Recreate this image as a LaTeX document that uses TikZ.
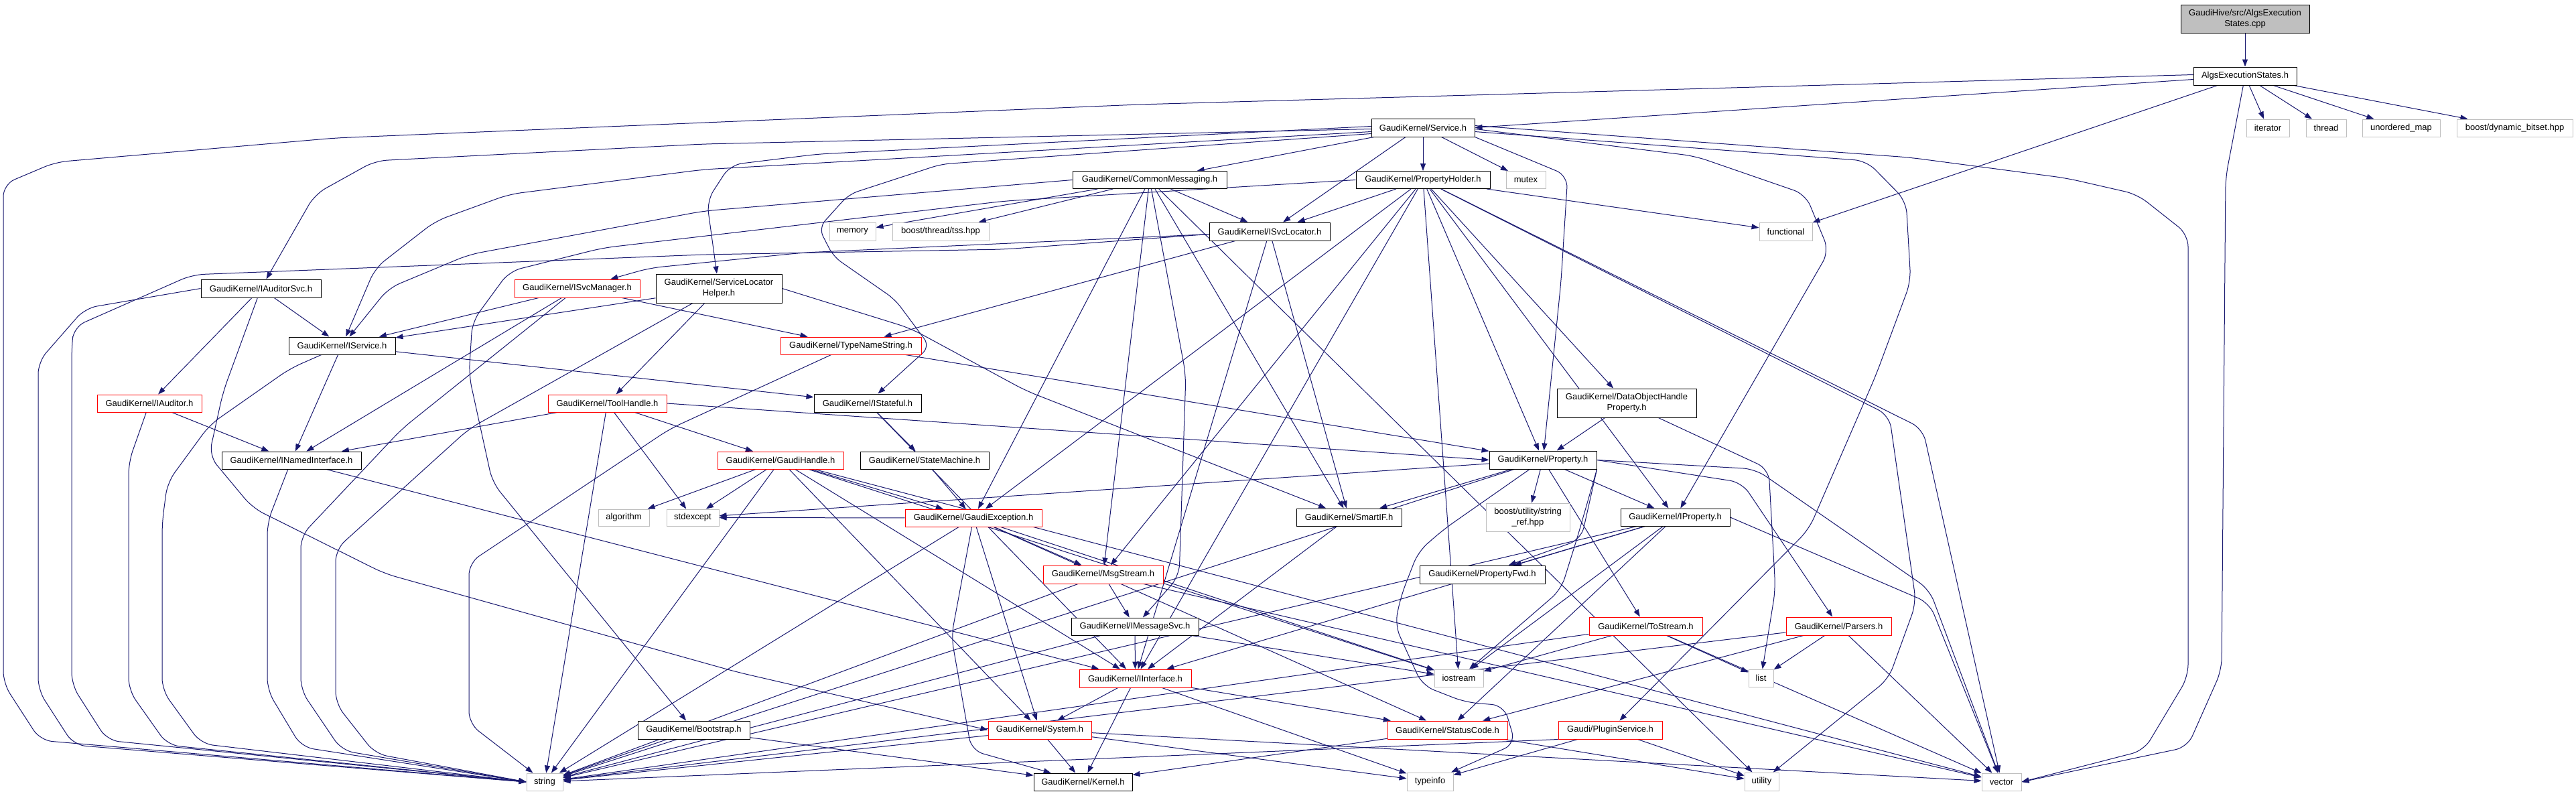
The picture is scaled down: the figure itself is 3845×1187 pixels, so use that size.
\documentclass[tikz,border=0pt]{standalone}
\usepackage{fontspec}
\setmainfont{Liberation Sans}
\usetikzlibrary{arrows.meta}
\definecolor{ecol}{HTML}{191970}
\definecolor{sysg}{HTML}{BFBFBF}
\pgfdeclarelayer{bglayer}
\pgfdeclarelayer{edgelayer}
\pgfsetlayers{bglayer,edgelayer,main}
\newcommand\mkbox[7]{\node[#1,minimum width=#5pt,minimum height=#6pt] (#2) at (#3,#4) {#7};}
\begin{document}
\begin{tikzpicture}[x=1pt,y=-1pt,
  nb/.style={draw=black,fill=white,line width=1pt,inner sep=0pt,align=center,font=\fontsize{13}{16}\selectfont},
  rb/.style={nb,draw=red},
  gb/.style={nb,draw=sysg},
  rootb/.style={nb,fill=sysg},
  e/.style={draw=ecol,line width=1pt,rounded corners=18pt,-{Triangle[length=11pt,width=8pt]}}]
\begin{pgfonlayer}{bglayer}
\fill[white] (0,0) rectangle (3845,1187);
\end{pgfonlayer}
\useasboundingbox (0,0) rectangle (3845,1187);
% nodes
\mkbox{rootb}{cpp}{3351}{28}{192}{42}{GaudiHive/src/AlgsExecution\\States.cpp}
\mkbox{nb}{aesh}{3351}{113.5}{154}{27}{AlgsExecutionStates.h}
\mkbox{gb}{iterator}{3385}{191}{64}{26}{iterator}
\mkbox{gb}{thread}{3472}{191}{60}{26}{thread}
\mkbox{gb}{umap}{3584}{191}{116}{26}{unordered\_map}
\mkbox{gb}{dynbit}{3753.5}{191}{173}{26}{boost/dynamic\_bitset.hpp}
\mkbox{nb}{service}{2124}{190.5}{154}{27}{GaudiKernel/Service.h}
\mkbox{nb}{commsg}{1716}{268.5}{230}{26}{GaudiKernel/CommonMessaging.h}
\mkbox{nb}{propholder}{2124}{268.5}{200}{26}{GaudiKernel/PropertyHolder.h}
\mkbox{gb}{mutex}{2277.5}{268.5}{59}{26}{mutex}
\mkbox{gb}{memory}{1272.5}{345.5}{69}{27}{memory}
\mkbox{gb}{tss}{1404}{345.5}{144}{27}{boost/thread/tss.hpp}
\mkbox{nb}{isvcloc}{1895}{345.5}{180}{27}{GaudiKernel/ISvcLocator.h}
\mkbox{gb}{functional}{2665.5}{345.5}{79}{27}{functional}
\mkbox{nb}{iauditorsvc}{389.5}{430.5}{179}{27}{GaudiKernel/IAuditorSvc.h}
\mkbox{rb}{isvcmgr}{861.5}{430.5}{187}{27}{GaudiKernel/ISvcManager.h}
\mkbox{nb}{slhelper}{1073}{430.5}{188}{43}{GaudiKernel/ServiceLocator\\Helper.h}
\mkbox{nb}{iservice}{510.5}{516}{159}{26}{GaudiKernel/IService.h}
\mkbox{rb}{typename}{1270}{516}{210}{26}{GaudiKernel/TypeNameString.h}
\mkbox{rb}{iauditor}{223}{602}{156}{26}{GaudiKernel/IAuditor.h}
\mkbox{rb}{toolhandle}{906.5}{602}{177}{26}{GaudiKernel/ToolHandle.h}
\mkbox{nb}{istateful}{1295}{601.5}{160}{27}{GaudiKernel/IStateful.h}
\mkbox{nb}{dohp}{2428}{601.5}{208}{43}{GaudiKernel/DataObjectHandle\\Property.h}
\mkbox{nb}{inamed}{435}{687}{208}{26}{GaudiKernel/INamedInterface.h}
\mkbox{rb}{gaudihandle}{1165}{687}{188}{26}{GaudiKernel/GaudiHandle.h}
\mkbox{nb}{statemachine}{1380}{687}{192}{26}{GaudiKernel/StateMachine.h}
\mkbox{nb}{property}{2303}{686.5}{160}{27}{GaudiKernel/Property.h}
\mkbox{gb}{algorithm}{931}{772.5}{76}{25}{algorithm}
\mkbox{gb}{stdexcept}{1034}{772.5}{78}{25}{stdexcept}
\mkbox{rb}{gaudiexc}{1453}{773}{204}{26}{GaudiKernel/GaudiException.h}
\mkbox{nb}{smartif}{2013.5}{772}{157}{26}{GaudiKernel/SmartIF.h}
\mkbox{gb}{stringref}{2280.5}{772}{125}{42}{boost/utility/string\\\_ref.hpp}
\mkbox{nb}{iproperty}{2500.5}{772}{163}{26}{GaudiKernel/IProperty.h}
\mkbox{rb}{msgstream}{1646.5}{857.5}{179}{27}{GaudiKernel/MsgStream.h}
\mkbox{nb}{propfwd}{2212.5}{857.5}{187}{27}{GaudiKernel/PropertyFwd.h}
\mkbox{nb}{imsgsvc}{1694}{935}{190}{26}{GaudiKernel/IMessageSvc.h}
\mkbox{rb}{tostream}{2456.5}{934.5}{169}{27}{GaudiKernel/ToStream.h}
\mkbox{rb}{parsers}{2744.5}{934.5}{157}{27}{GaudiKernel/Parsers.h}
\mkbox{rb}{iinterface}{1694.5}{1012.5}{167}{27}{GaudiKernel/IInterface.h}
\mkbox{gb}{iostream}{2177.5}{1012}{73}{26}{iostream}
\mkbox{gb}{list}{2628.5}{1012}{37}{26}{list}
\mkbox{nb}{bootstrap}{1035.5}{1089.5}{167}{27}{GaudiKernel/Bootstrap.h}
\mkbox{rb}{system}{1552}{1089.5}{154}{27}{GaudiKernel/System.h}
\mkbox{rb}{statuscode}{2160.5}{1089.5}{179}{27}{GaudiKernel/StatusCode.h}
\mkbox{rb}{pluginsvc}{2403.5}{1089.5}{155}{27}{Gaudi/PluginService.h}
\mkbox{gb}{string}{813}{1167}{54}{26}{string}
\mkbox{nb}{kernel}{1616.5}{1167}{147}{26}{GaudiKernel/Kernel.h}
\mkbox{gb}{typeinfo}{2134.5}{1166.5}{69}{27}{typeinfo}
\mkbox{gb}{utility}{2629.5}{1166.5}{51}{27}{utility}
\mkbox{gb}{vector}{2987.5}{1167}{59}{26}{vector}
% edges
\begin{pgfonlayer}{edgelayer}
\draw[e] (cpp) -- (aesh);
\foreach \t in {iterator,thread,umap,dynbit,functional} \draw[e] (aesh) -- (\t);
\draw[e] ([yshift=-5pt]aesh.west) -- (service.east);
\draw[e] ([yshift=2pt]aesh.west) -- (1700,156) -- (500,206) -- (83,242) -- (5,275) -- (5,1020) -- (60,1105) -- (string.west);
\draw[e] (aesh) -- (3322,265) -- (3316,1000) -- (3265,1115) -- (vector.east);
% Service.h
\foreach \t in {commsg,propholder,mutex} \draw[e] (service) -- (\t);
\draw[e] ([xshift=-26pt]service.south) -- (isvcloc);
\draw[e] ([yshift=-2pt]service.west) -- (1050,215) -- (560,240) -- (470,290) -- (iauditorsvc);
\draw[e] ([yshift=-6pt]service.west) -- (1050,253) -- (760,290) -- (650,330) -- (560,400) -- (iservice);
\draw[e] ([yshift=2pt]service.west) -- (1221,230) -- (1090,246) -- (1055,300) -- (slhelper);
\draw[e,rounded corners=14pt] ([yshift=-9pt]service.west) -- (1405,245) -- (1267,290) -- (1222,340) -- (1244,383) -- (1336,447) -- (1388,517) -- (istateful);
\draw[e] (service.south east) -- (2340,262) -- (2330,420) -- (property);
\draw[e] ([yshift=-2pt]service.east) -- (2530,233) -- (2695,290) -- (2730,375) -- (iproperty);
\draw[e] ([yshift=-6pt]service.east) -- (2786,240) -- (2845,300) -- (2852,420) -- (2800,560) -- (2700,790) -- (pluginsvc);
\draw[e] ([yshift=3pt]service.east) -- (2850,235) -- (3085,266) -- (3190,290) -- (3266,350) -- (3266,1010) -- (3200,1120) -- (vector.east);
% CommonMessaging.h
\foreach \t in {memory,tss,isvcloc,gaudiexc,msgstream,smartif,utility} \draw[e] (commsg) -- (\t);
\draw[e] (commsg) -- (1770,560) -- (1760,860) -- (imsgsvc);
\draw[e] (commsg.west) -- (1050,315) -- (700,380) -- (580,430) -- (iservice);
% PropertyHolder.h
\foreach \t in {isvcloc,functional,property,dohp,iproperty,msgstream,gaudiexc,iinterface,iostream} \draw[e] (propholder) -- (\t);
\draw[e] (propholder.west) -- (1500,300) -- (900,370) -- (760,405) -- (705,480) -- (700,560) -- (735,720) -- (bootstrap);
\draw[e] (propholder) -- (2870,640) -- (vector);
\draw[e] (propholder) -- (2820,620) -- (2860,900) -- (2819,1013) -- (utility);
% ISvcLocator.h
\foreach \t in {typename,smartif,iinterface} \draw[e] (isvcloc) -- (\t);
\draw[e] (isvcloc) -- (1200,377) -- (970,400) -- (isvcmgr);
\draw[e] ([yshift=-4pt]isvcloc.west) -- (1500,372) -- (1050,380) -- (287,410) -- (110,488) -- (107,520) -- (107,1022) -- (160,1105) -- (string.west);
% IAuditorSvc.h
\draw[e] (iauditorsvc) -- (iservice);
\draw[e] (iauditorsvc) -- (iauditor);
\draw[e] (iauditorsvc.west) -- (127,460) -- (57,540) -- (57,1030) -- (110,1112) -- (string.west);
\draw[e] (iauditorsvc) -- (333,585) -- (312,680) -- (377,758) -- (574,856) -- (1100,1003) -- (system.west);
% ISvcManager.h
\foreach \t in {iservice,typename,inamed} \draw[e] (isvcmgr) -- (\t);
\draw[e] (isvcmgr) -- (600,640) -- (449,800) -- (449,1030) -- (510,1120) -- (string.west);
% ServiceLocatorHelper.h
\draw[e] (slhelper) -- (iservice);
\draw[e] (slhelper) -- (toolhandle);
\draw[e] (slhelper.east) -- (1359,490) -- (1531,583) -- (smartif);
\draw[e] (slhelper) -- (700,640) -- (501,820) -- (501,1050) -- (560,1125) -- (string.west);
% IService.h
\draw[e] (iservice) -- (inamed);
\draw[e] (iservice) -- (istateful);
\draw[e] (iservice) -- (433,550) -- (313,634) -- (250,720) -- (242,780) -- (242,1030) -- (300,1110) -- (string.west);
% TypeNameString.h
\draw[e] (typename) -- (property);
\draw[e] (typename) -- (1000,640) -- (700,840) -- (700,1080) -- (string);
% IAuditor.h
\draw[e] (iauditor) -- (inamed);
\draw[e] (iauditor) -- (192,690) -- (192,1030) -- (250,1112) -- (string.west);
% ToolHandle.h
\foreach \t in {inamed,gaudihandle,stdexcept,string} \draw[e] (toolhandle) -- (\t);
\draw[e] (toolhandle.east) -- (property.west);
% IStateful.h
\draw[e] (istateful) -- (statemachine);
\draw[e] (istateful) -- (iinterface);
% DataObjectHandleProperty.h
\draw[e] (dohp) -- (property);
\draw[e] (dohp) -- (2640,700) -- (2650,880) -- (list);
% INamedInterface.h
\draw[e] (inamed) -- (iinterface);
\draw[e] (inamed) -- (399,780) -- (399,1030) -- (450,1115) -- (string.west);
% GaudiHandle.h
\foreach \t in {gaudiexc,algorithm,stdexcept,string,system,iinterface,vector,iostream} \draw[e] (gaudihandle) -- (\t);
% StateMachine.h
\draw[e] (statemachine) -- (gaudiexc);
% Property.h
\foreach \t in {smartif,stringref,iproperty,tostream,string,stdexcept} \draw[e] (property) -- (\t);
\draw[e] (property.south east) -- (2360,805) -- (propfwd);
\draw[e] (property.south east) -- (2355,800) -- (2330,880) -- (iostream);
\draw[e] (property) -- (2155,790) -- (2117,823) -- (2091,890) -- (2082,933) -- (2123,1023) -- (2187,1048) -- (2245,1053) -- (2262,1110) -- (typeinfo);
\draw[e] (property.east) -- (2600,720) -- (parsers);
\draw[e] (property.east) -- (2620,700) -- (2880,880) -- (vector);
% SmartIF.h
\draw[e] (smartif) -- (iinterface);
% IProperty.h
\foreach \t in {propfwd,iinterface,string,iostream,statuscode} \draw[e] (iproperty) -- (\t);
\draw[e] (iproperty.east) -- (2880,900) -- (vector);
% GaudiException.h
\foreach \t in {msgstream,stdexcept,string,system,statuscode,iostream} \draw[e] (gaudiexc) -- (\t);
\draw[e] (gaudiexc) -- (1420,950) -- (1450,1120) -- (kernel);
% MsgStream.h
\foreach \t in {imsgsvc,string,vector} \draw[e] (msgstream) -- (\t);
% IMessageSvc.h
\foreach \t in {iinterface,string,iostream} \draw[e] (imsgsvc) -- (\t);
% ToStream.h
\foreach \t in {iostream,string,vector,list} \draw[e] (tostream) -- (\t);
% Parsers.h
\foreach \t in {list,statuscode,string,vector} \draw[e] (parsers) -- (\t);
% IInterface.h
\foreach \t in {system,kernel,statuscode,typeinfo} \draw[e] (iinterface) -- (\t);
% System.h
\foreach \t in {kernel,string,typeinfo,vector} \draw[e] (system) -- (\t);
% Bootstrap.h
\draw[e] (bootstrap) -- (string);
\draw[e] (bootstrap) -- (kernel);
% StatusCode.h
\draw[e] (statuscode) -- (kernel);
\draw[e] (statuscode) -- (utility);
% PluginService.h
\draw[e] (pluginsvc) -- (typeinfo);
\draw[e] (pluginsvc) -- (utility);
\draw[e] (pluginsvc.south west) -- (string);
\end{pgfonlayer}
\end{tikzpicture}
\end{document}
